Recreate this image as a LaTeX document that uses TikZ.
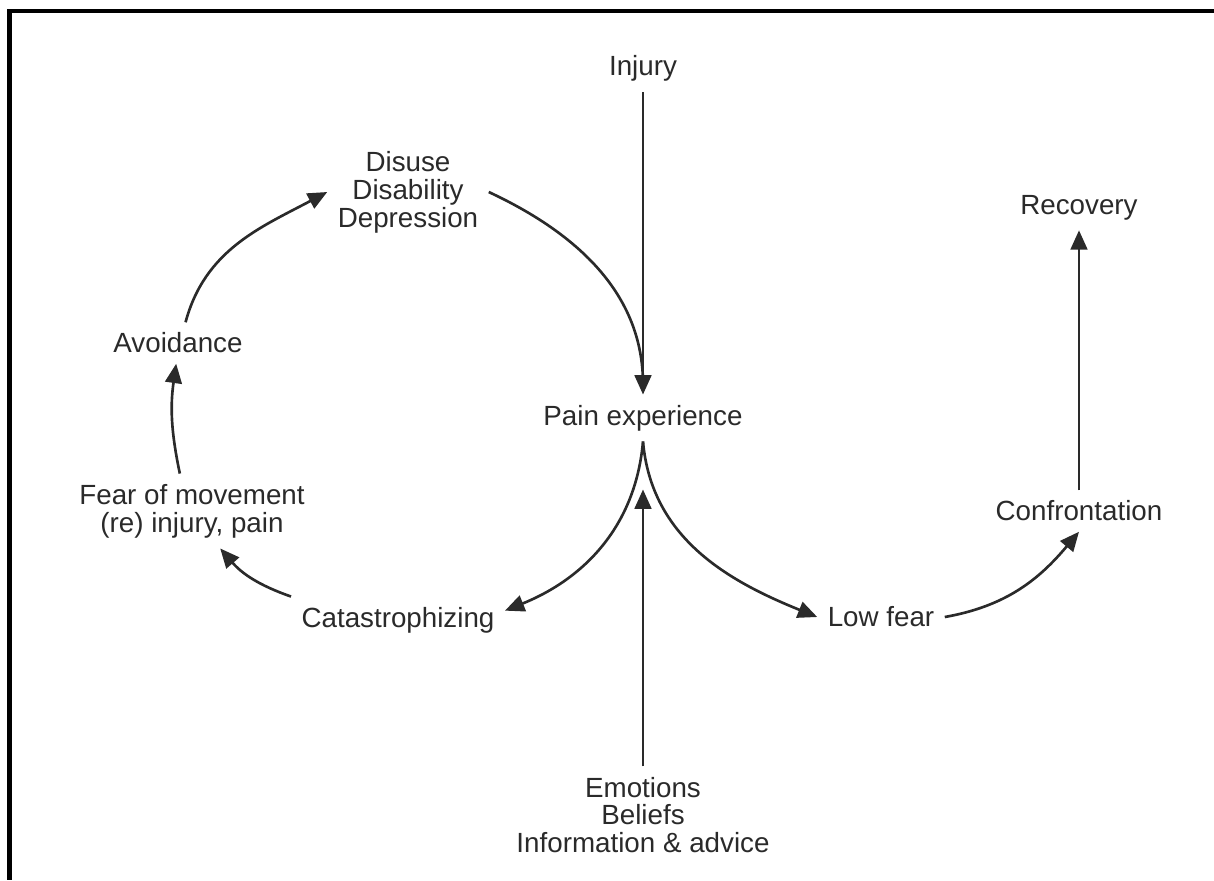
\documentclass[tikz,border=0pt]{standalone}
\usepackage{fontspec}
\setmainfont{Liberation Sans}
\usetikzlibrary{arrows.meta,positioning}
\definecolor{inkgray}{RGB}{42,42,42}

\begin{document}
\begin{tikzpicture}[
  x=0.02cm, y=-0.02cm,
  mytext/.style={align=center, inner sep=6pt, outer sep=0pt, text=inkgray,
    font=\fontsize{15.8}{15.9}\selectfont},
  myline/.style={draw=inkgray, line width=1.5pt},
  myarrow/.style={myline, -{Triangle[length=11pt,width=9.5pt]}},
]
\useasboundingbox (0,0) rectangle (1214,880);
\draw[line width=2.4pt] (1214,11) -- (9.5,11) -- (9.5,880);

\node[mytext] (pain) at (643,418) {Pain experience};
\node[mytext,above=6.05cm of pain] (inj) {Injury};
\node[mytext] (emo) at (643,815) {Emotions\\Beliefs\\Information \& advice};
\node[mytext] (dis) at (408,192) {Disuse\\Disability\\Depression};
\node[mytext] (avo) at (178,343) {Avoidance};
\node[mytext] (fear) at (192,511) {Fear of movement\\(re) injury, pain};
\node[mytext] (cat) at (398,620) {Catastrophizing};
\node[mytext] (low) at (881,617) {Low fear};
\node[mytext] (con) at (1079,511) {Confrontation};
\node[mytext,above=5.2cm of con] (rec) {Recovery};

\draw[myarrow] (inj.south) -- (pain.north);
\draw[myline, shorten >=6pt] (dis.east) to[out=-25,in=90] (pain.north);
\draw[myarrow, shorten >=0.96cm] (emo.north) -- (pain.south);
\draw[myarrow] (pain.south) to[out=-95,in=22] (cat.5);
\draw[myarrow] (pain.south) to[out=-85,in=158] (low.west);
\draw[myarrow] (low.east) to[out=10,in=230] (con.south);
\draw[myarrow] (con.north) -- (rec.south);
\draw[myarrow] (cat.north west) to[bend left=15] (fear.-53);
\draw[myarrow] (fear.108) to[bend left=10] (avo.265);
\draw[myarrow] (avo.70) to[out=75,in=208] (dis.west);
\end{tikzpicture}
\end{document}
